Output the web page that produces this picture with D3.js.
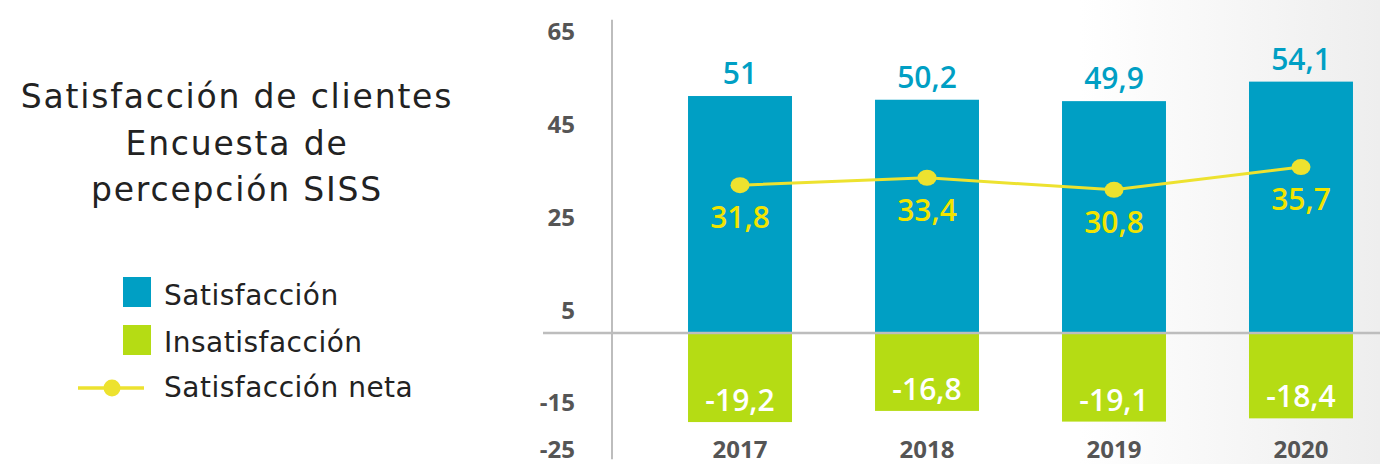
<!DOCTYPE html>
<html><head><meta charset="utf-8">
<script src="https://cdn.jsdelivr.net/npm/d3@7"></script>
<style>html,body{margin:0;padding:0;background:#fff;}svg{display:block;}</style>
</head><body>
<svg id="chart" width="1380" height="464"></svg>
<script>
const years = ["2017","2018","2019","2020"];
const satisfaccion = [51, 50.2, 49.9, 54.1];
const insatisfaccion = [-19.2, -16.8, -19.1, -18.4];
const neta = [31.8, 33.4, 30.8, 35.7];
const yTicks = [65, 45, 25, 5, -15, -25];
const titleLines = ["Satisfacción de clientes", "Encuesta de", "percepción SISS"];
const legendLabels = ["Satisfacción", "Insatisfacción", "Satisfacción neta"];

const BLUE = "#009fc4", GREEN = "#b5dc14", YELLOW = "#ede22f", YTEXT = "#f2e400";
const FONT = "'Open Sans', sans-serif";
const TFONT = "'DejaVu Sans', sans-serif";
const fmt = v => String(v).replace(".", ",");

const svg = d3.select("#chart");
const defs = svg.append("defs");
const grad = defs.append("linearGradient").attr("id","bg").attr("gradientUnits","userSpaceOnUse")
  .attr("x1",1080).attr("x2",1380).attr("y1",0).attr("y2",0);
grad.append("stop").attr("offset","0").attr("stop-color","#ffffff");
grad.append("stop").attr("offset","1").attr("stop-color","#eeeeee");
svg.append("rect").attr("width",1380).attr("height",464).attr("fill","url(#bg)");

const y = d3.scaleLinear().domain([-25, 65]).range([449, 31]);
const x = d3.scaleBand().domain(years).range([605, 1436]).padding(0.444);

// y axis labels
const yAxis = svg.append("g").attr("transform","translate(612,0)")
  .call(d3.axisLeft(y).tickValues(yTicks).tickSize(0).tickPadding(37).tickFormat(d => d));
yAxis.select(".domain").remove();
yAxis.selectAll("text").attr("font-family",FONT).attr("font-weight",700)
  .attr("font-size",24).attr("fill","#555").attr("dy","0.35em");

// axis lines
svg.append("line").attr("x1",612).attr("x2",612).attr("y1",y(67.4)).attr("y2",y(-27.2))
  .attr("stroke","#bdbdbd").attr("stroke-width",2);

// bars
svg.selectAll(".sat").data(years).enter().append("rect")
  .attr("x",d=>x(d)).attr("width",x.bandwidth())
  .attr("y",(d,i)=>y(satisfaccion[i])).attr("height",(d,i)=>y(0)-y(satisfaccion[i]))
  .attr("fill",BLUE);
svg.selectAll(".ins").data(years).enter().append("rect")
  .attr("x",d=>x(d)).attr("width",x.bandwidth())
  .attr("y",y(0)).attr("height",(d,i)=>y(insatisfaccion[i])-y(0))
  .attr("fill",GREEN);

svg.append("line").attr("x1",543).attr("x2",1380).attr("y1",y(0)).attr("y2",y(0))
  .attr("stroke","#bdbdbd").attr("stroke-width",2.5);

// bar labels
svg.selectAll(".satl").data(years).enter().append("text")
  .attr("x",d=>x(d)+x.bandwidth()/2).attr("y",(d,i)=>y(satisfaccion[i])-12)
  .attr("text-anchor","middle").attr("font-family",FONT).attr("font-weight",600)
  .attr("font-size",30).attr("fill",BLUE).text((d,i)=>fmt(satisfaccion[i]));
svg.selectAll(".insl").data(years).enter().append("text")
  .attr("x",d=>x(d)+x.bandwidth()/2).attr("y",(d,i)=>y(insatisfaccion[i])-11)
  .attr("text-anchor","middle").attr("font-family",FONT).attr("font-weight",600)
  .attr("font-size",30).attr("fill","#fff").text((d,i)=>fmt(insatisfaccion[i]));

// net line
const line = d3.line().x((d,i)=>x(years[i])+x.bandwidth()/2).y(d=>y(d));
svg.append("path").datum(neta).attr("d",line).attr("fill","none")
  .attr("stroke",YELLOW).attr("stroke-width",3);
svg.selectAll(".pt").data(neta).enter().append("ellipse")
  .attr("cx",(d,i)=>x(years[i])+x.bandwidth()/2).attr("cy",d=>y(d))
  .attr("rx",9.5).attr("ry",8).attr("fill",YELLOW);
svg.selectAll(".netl").data(neta).enter().append("text")
  .attr("x",(d,i)=>x(years[i])+x.bandwidth()/2).attr("y",d=>y(d)+43)
  .attr("text-anchor","middle").attr("font-family",FONT).attr("font-weight",600)
  .attr("font-size",30).attr("fill",YTEXT).text(d=>fmt(d));

// x labels
svg.selectAll(".xl").data(years).enter().append("text")
  .attr("x",d=>x(d)+x.bandwidth()/2).attr("y",458)
  .attr("text-anchor","middle").attr("font-family",FONT).attr("font-weight",700)
  .attr("font-size",24).attr("fill","#555").text(d=>d);

// title
svg.append("g").selectAll("text").data(titleLines).enter().append("text")
  .attr("x",237).attr("y",(d,i)=>108+i*46.5).attr("text-anchor","middle")
  .attr("font-family",TFONT).attr("font-size",33).attr("letter-spacing",1.8)
  .attr("fill","#222").text(d=>d);

// legend
const lg = svg.append("g");
lg.append("rect").attr("x",123).attr("y",277).attr("width",28).attr("height",30).attr("fill",BLUE);
lg.append("rect").attr("x",123).attr("y",325).attr("width",28).attr("height",30).attr("fill",GREEN);
lg.append("line").attr("x1",78).attr("x2",144).attr("y1",388).attr("y2",388)
  .attr("stroke",YELLOW).attr("stroke-width",3.5);
lg.append("circle").attr("cx",112).attr("cy",388).attr("r",8.5).attr("fill",YELLOW);
lg.selectAll("text").data(legendLabels).enter().append("text")
  .attr("x",164).attr("y",(d,i)=>[305,352,397][i])
  .attr("font-family",TFONT).attr("font-size",28).attr("letter-spacing",0.5)
  .attr("fill","#222").text(d=>d);
</script>
</body></html>
